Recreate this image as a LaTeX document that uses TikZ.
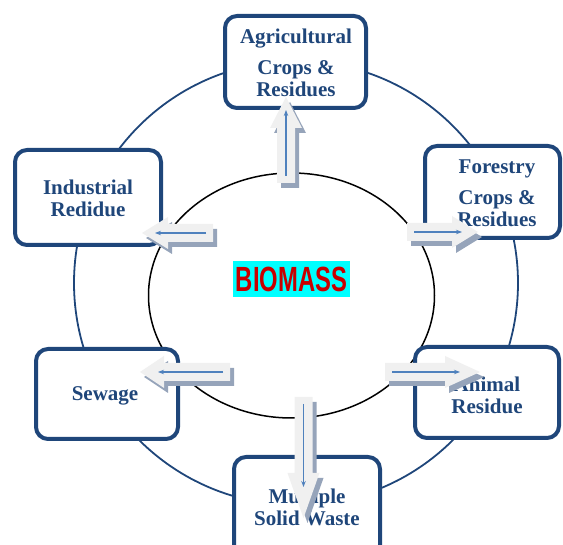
\documentclass[tikz,border=0pt]{standalone}
\usepackage{fontspec}
\setmainfont{Liberation Serif}
\newfontfamily\biofont{Liberation Sans}
\usetikzlibrary{arrows.meta}
\definecolor{boxblue}{RGB}{31,70,122}
\definecolor{arrfillc}{RGB}{240,240,240}
\definecolor{arrshadc}{RGB}{150,164,186}
\definecolor{innerblue}{RGB}{79,129,189}
\definecolor{biored}{RGB}{200,0,0}
\definecolor{biocyan}{RGB}{0,255,255}
\tikzset{
  boxnode/.style={draw=boxblue, line width=4pt, rounded corners=12pt, fill=white, inner sep=0pt},
  lbl/.style={font=\fontsize{21}{22}\selectfont\bfseries, text=boxblue, align=center, inner sep=0pt},
  arrshadow/.style={fill=arrshadc},
  arrfill/.style={fill=arrfillc},
  blueln/.style={draw=innerblue, line width=1.1pt, -{Stealth[length=6pt,width=4.5pt]}}
}
% #1 x, #2 y of tail centre, #3 canvas angle, #4 length, #5 head length, #6 blue end distance from tip
\newcommand\blockarr[6]{%
  \begin{scope}[shift={(#1+4,#2+5)},rotate=#3]
    \fill[arrshadow] (0,-9) -- ({#4-#5},-9) -- ({#4-#5},-16) -- (#4,0) -- ({#4-#5},16) -- ({#4-#5},9) -- (0,9) -- cycle;
  \end{scope}
  \begin{scope}[shift={(#1,#2)},rotate=#3]
    \fill[arrfill] (0,-9) -- ({#4-#5},-9) -- ({#4-#5},-16) -- (#4,0) -- ({#4-#5},16) -- ({#4-#5},9) -- (0,9) -- cycle;
    \draw[blueln] (7,0) -- ({#4-#6},0);
  \end{scope}}
\begin{document}
\begin{tikzpicture}[x=1pt,y=-1pt]
\useasboundingbox (0,0) rectangle (563,545);
% outer circle and inner ellipse
\draw[boxblue, line width=1.8pt] (296,283) circle [radius=222];
\draw[black, line width=1.5pt] (291.5,295.5) ellipse [x radius=143, y radius=122.5];
% boxes
\node[boxnode, minimum width=141pt, minimum height=92pt] (agbox) at (295.5,62) {};
\node[boxnode, minimum width=135pt, minimum height=92pt] (fobox) at (492.5,192) {};
\node[boxnode, minimum width=146pt, minimum height=95pt] (inbox) at (88,197.5) {};
\node[boxnode, minimum width=142pt, minimum height=90pt] (sebox) at (107,394) {};
\node[boxnode, minimum width=144pt, minimum height=91pt] (anbox) at (487,392.5) {};
\node[boxnode, minimum width=146pt, minimum height=100pt] (mubox) at (307,507) {};
% labels
\node[lbl] (agtxt) at (296,63) {Agricultural\\[9pt]Crops \&\\Residues};
\node[lbl] (fotxt) at (497,193) {Forestry\\[9pt]Crops \&\\Residues};
\node[lbl] (intxt) at (88,198) {Industrial\\Redidue};
\node[lbl] (setxt) at (105,396) {Sewage};
\node[lbl] (antxt) at (487,395) {Animal\\Residue};
\node[lbl] (mutxt) at (307,507) {Multiple\\Solid Waste};
% centre label
\node[fill=biocyan, minimum width=117pt, minimum height=36pt, inner sep=0pt] (bio) at (291.5,279)
  {\biofont\bfseries\color{biored}\fontsize{35}{35}\selectfont\scalebox{0.68}[1]{BIOMASS}};
% block arrows
\blockarr{286}{183}{90}{86}{31}{13}
\blockarr{213}{233}{180}{71}{26}{13}
\blockarr{407}{232}{0}{71}{26}{16}
\blockarr{230}{372}{180}{90}{24}{18}
\blockarr{385}{372}{0}{95}{35}{20}
\blockarr{303.5}{397}{-90}{121}{45}{31}
\end{tikzpicture}
\end{document}
